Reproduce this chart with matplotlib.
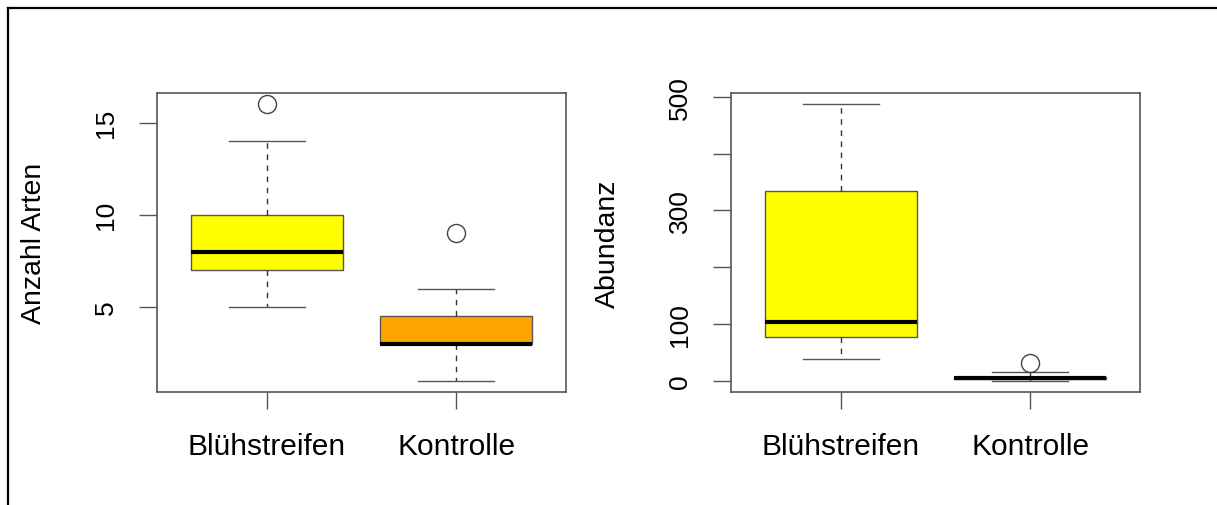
import matplotlib
matplotlib.use("Agg")
import matplotlib.pyplot as plt
from matplotlib.lines import Line2D

plt.rcParams['font.family'] = ['Liberation Sans', 'DejaVu Sans']

# Gruppen
gruppen = ["Blühstreifen", "Kontrolle"]

# Anzahl Arten: untere Whisker, Q1, Median, Q3, obere Whisker, Ausreisser
arten_whislo = [5, 1]
arten_q1 = [7, 3]
arten_med = [8, 3]
arten_q3 = [10, 4.5]
arten_whishi = [14, 6]
arten_fliers = [[16], [9]]
arten_farben = ["#ffff00", "#ffa500"]

# Abundanz
abund_whislo = [39, 0]
abund_q1 = [78, 3]
abund_med = [104, 5]
abund_q3 = [334, 7]
abund_whishi = [487, 15]
abund_fliers = [[], [31]]
abund_farben = ["#ffff00", "#ffff00"]

abund_ticks = [0, 100, 200, 300, 400, 500]
abund_ticklabels = ["0", "100", "", "300", "", "500"]
arten_ticks = [5, 10, 15]

fig = plt.figure(figsize=(12.17, 5.06), dpi=100)
W, H = 1217, 506

# Rahmen oben und links
fig.add_artist(Line2D([8 / W, 8 / W], [0, 1 - 9 / H], color="black", lw=1.6, transform=fig.transFigure))
fig.add_artist(Line2D([8 / W, 1], [1 - 9 / H, 1 - 9 / H], color="black", lw=1.6, transform=fig.transFigure))

def boxplot(ax, whislo, q1, med, q3, whishi, fliers, farben, ylabel):
    stats = []
    for i in range(len(gruppen)):
        stats.append(dict(whislo=whislo[i], q1=q1[i], med=med[i], q3=q3[i],
                          whishi=whishi[i], fliers=fliers[i], label=gruppen[i]))
    res = ax.bxp(stats, positions=[1, 2], widths=0.8, capwidths=0.4, patch_artist=True,
                 boxprops=dict(edgecolor="#555555", lw=1),
                 whiskerprops=dict(color="#333333", lw=1, linestyle=(0, (4, 4))),
                 capprops=dict(color="#555555", lw=1),
                 medianprops=dict(color="black", lw=3, solid_capstyle="butt"),
                 flierprops=dict(marker="o", markerfacecolor="none", markeredgecolor="#444444",
                                 markersize=13, markeredgewidth=1))
    for patch, c in zip(res["boxes"], farben):
        patch.set_facecolor(c)
    # R-artige Achsen: 4% Zuschlag
    lo = min(min(whislo), min(min(f) if f else whislo[0] for f in fliers))
    hi = max(max(whishi), max(max(f) if f else whishi[0] for f in fliers))
    pad = 0.04 * (hi - lo)
    ax.set_ylim(lo - pad, hi + pad)
    ax.set_xlim(0.42, 2.58)
    for s in ax.spines.values():
        s.set_color("#555555")
        s.set_linewidth(1.2)
    ax.tick_params(axis="x", length=12, width=1, color="#555555", labelsize=21.5, pad=17)
    ax.tick_params(axis="y", length=13, width=1, color="#555555", labelsize=19, pad=15)
    ax.set_ylabel(ylabel, fontsize=20.5, va="center")
    ax.yaxis.set_label_coords(-123 / 409, 0.5)

ax1 = fig.add_axes([157 / W, 113 / H, 409 / W, 299 / H])
boxplot(ax1, arten_whislo, arten_q1, arten_med, arten_q3, arten_whishi, arten_fliers,
        arten_farben, "Anzahl Arten")
ax1.set_yticks(arten_ticks)
plt.setp(ax1.get_yticklabels(), rotation=90, va="center")

ax2 = fig.add_axes([731 / W, 113 / H, 409 / W, 299 / H])
boxplot(ax2, abund_whislo, abund_q1, abund_med, abund_q3, abund_whishi, abund_fliers,
        abund_farben, "Abundanz")
ax2.set_yticks(abund_ticks)
ax2.set_yticklabels(abund_ticklabels)
plt.setp(ax2.get_yticklabels(), rotation=90, va="center")

fig.savefig("out.png", dpi=100, facecolor="white")
